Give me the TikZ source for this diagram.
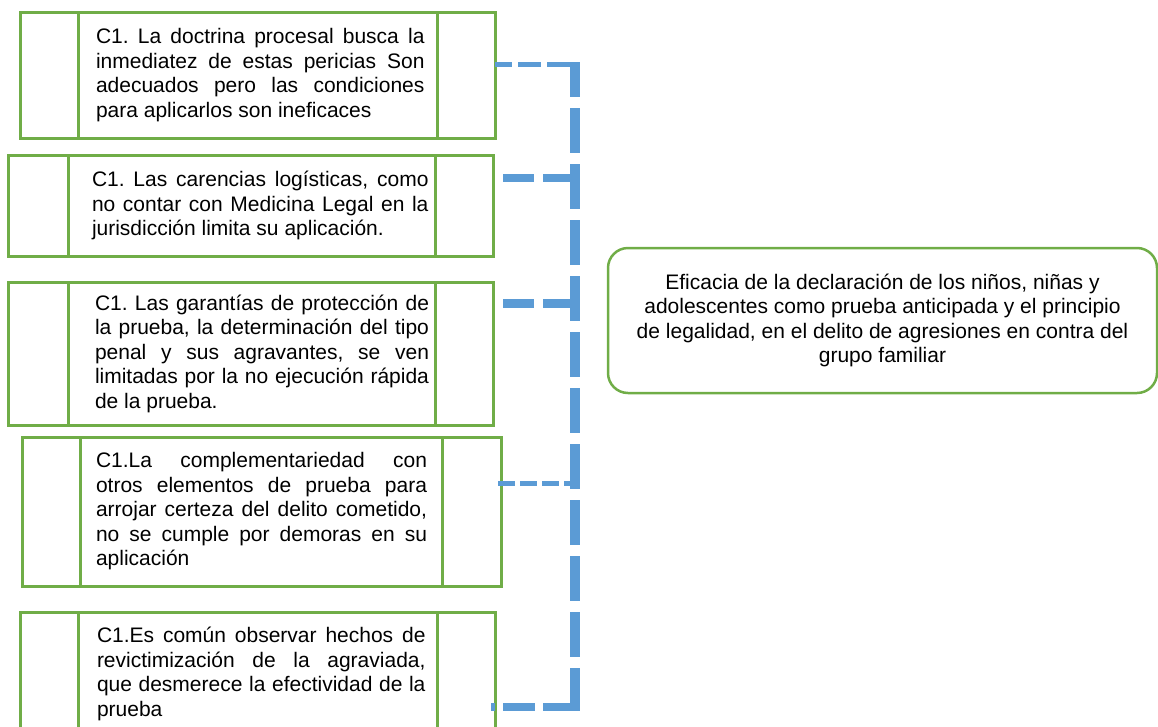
\documentclass[tikz,border=0pt]{standalone}
\usepackage{fontspec}
\setmainfont{Liberation Sans}
\usetikzlibrary{positioning}
\definecolor{verde}{RGB}{112,173,71}
\definecolor{azul}{RGB}{91,155,213}
\frenchspacing
\tikzset{
  lado/.style={draw=verde, line width=3pt, outer sep=0pt, inner sep=0pt},
  texto/.style={draw=verde, line width=3pt, outer sep=0pt, inner xsep=6pt, inner ysep=0pt,
    align=justify, font=\fontsize{21}{24.5}\selectfont\frenchspacing},
  margen/.style 2 args={execute at begin node={\leftskip=#1pt\rightskip=#2pt\relax}},
  tema/.style={draw=verde, line width=2.5pt, rounded corners=20pt, align=center,
    font=\fontsize{21}{24.25}\selectfont},
  rama/.style={draw=azul},
}
\begin{document}
\begin{tikzpicture}[x=1pt, y=-1pt]
\useasboundingbox (0,0) rectangle (1158,726);

% cajas de la izquierda
\node[lado, anchor=north west, minimum width=58, minimum height=126] (izq1) at (20,12) {};
\node[texto, margen={12}{6.5}, text width=347, minimum height=126, right=0pt of izq1] (caja1)
  {C1. La doctrina procesal busca la\linebreak inmediatez de estas pericias Son\linebreak adecuados pero las condiciones\linebreak para aplicarlos son ineficaces};
\node[lado, minimum width=58, minimum height=126, right=0pt of caja1] (der1) {};

\node[lado, anchor=north west, minimum width=60, minimum height=101] (izq2) at (8,155) {};
\node[texto, margen={18}{0.5}, text width=355, minimum height=101, right=0pt of izq2] (caja2)
  {C1. Las carencias logísticas, como\linebreak no contar con Medicina Legal en la\linebreak jurisdicción limita su aplicación.};
\node[lado, minimum width=58, minimum height=101, right=0pt of caja2] (der2) {};

\node[lado, anchor=north west, minimum width=60, minimum height=143] (izq3) at (8,282) {};
\node[texto, margen={21}{0}, text width=355, minimum height=143, right=0pt of izq3] (caja3)
  {C1. Las garantías de protección de\linebreak la prueba, la determinación del tipo\linebreak penal y sus agravantes, se ven\linebreak limitadas por la no ejecución rápida\linebreak de la prueba.};
\node[lado, minimum width=58, minimum height=143, right=0pt of caja3] (der3) {};

\node[lado, anchor=north west, minimum width=58, minimum height=149] (izq4) at (22,437) {};
\node[texto, margen={10}{9}, text width=350, minimum height=149, right=0pt of izq4] (caja4)
  {C1.La complementariedad con\linebreak otros elementos de prueba para\linebreak arrojar certeza del delito cometido,\linebreak no se cumple por demoras en su\linebreak aplicación};
\node[lado, minimum width=59, minimum height=149, right=0pt of caja4] (der4) {};

\node[lado, anchor=north west, minimum width=58, minimum height=124] (izq5) at (20,612) {};
\node[texto, margen={13}{5.5}, text width=347, minimum height=124, right=0pt of izq5] (caja5)
  {C1.Es común observar hechos de\linebreak revictimización de la agraviada,\linebreak que desmerece la efectividad de la\linebreak prueba};
\node[lado, minimum width=58, minimum height=124, right=0pt of caja5] (der5) {};

% caja de la derecha
\node[tema, minimum width=549, minimum height=145] (tema) at (882.5,320.5)
  {Eficacia de la declaración de los niños, niñas y\\ adolescentes como prueba anticipada y el principio\\ de legalidad, en el delito de agresiones en contra del\\ grupo familiar};

% linea punteada
\coordinate (arriba) at (575,62);
\coordinate (abajo) at (575,711);
\coordinate (e1) at (575,64.5);
\coordinate (e2) at (575,178);
\coordinate (e3) at (575,303.5);
\coordinate (e4) at (575,483.5);
\coordinate (e5) at (575,706.5);

\draw[rama, line width=5pt, dash pattern=on 23pt off 6pt, dash phase=6pt] (der1.east |- e1) -- (e1);
\draw[rama, line width=8pt, dash pattern=on 31pt off 9pt, shorten <=10pt] (der2.east |- e2) -- (e2);
\draw[rama, line width=9pt, dash pattern=on 31pt off 9pt, shorten <=10pt] (der3.east |- e3) -- (e3);
\draw[rama, line width=5pt, dash pattern=on 17pt off 5pt, shorten <=-3pt] (der4.east |- e4) -- (e4);
\draw[rama, line width=8pt, dash pattern=on 32pt off 8pt, dash phase=28pt, shorten <=-4pt] (der5.east |- e5) -- (e5);
\draw[rama, line width=10pt, dash pattern=on 45pt off 11pt, dash phase=10pt] (arriba) -- (abajo);
\end{tikzpicture}
\end{document}
